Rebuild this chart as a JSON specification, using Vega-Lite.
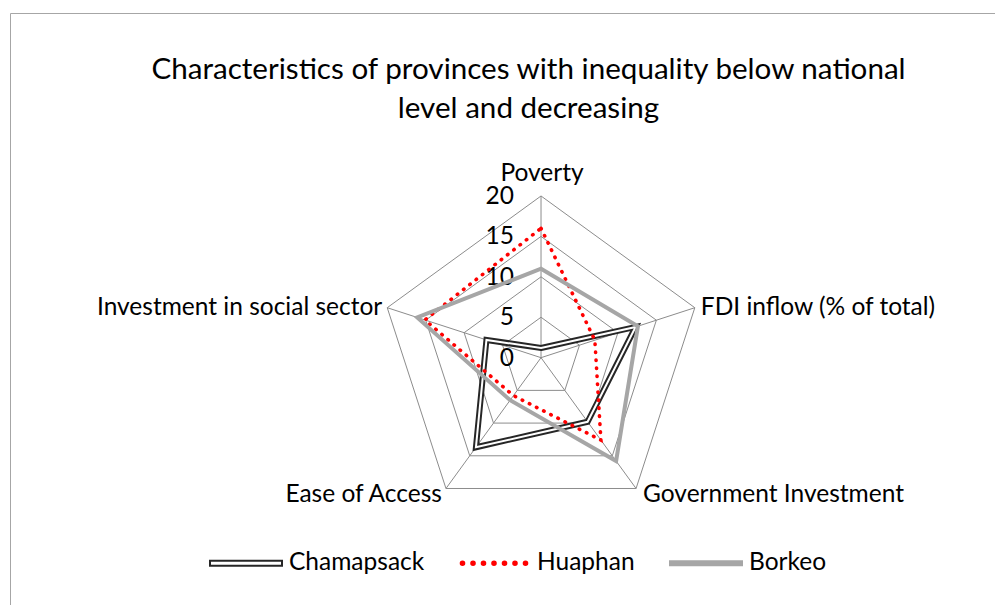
{
  "$schema": "https://vega.github.io/schema/vega-lite/v6.json",
  "width": 985,
  "height": 592,
  "autosize": {"type": "none"},
  "padding": {"left": 10, "top": 13, "right": 0, "bottom": 0},
  "background": "white",
  "config": {"view": {"stroke": null}, "font": "Lato"},
  "title": {
    "text": ["Characteristics of provinces with inequality below national", "level and decreasing"],
    "font": "Lato",
    "fontSize": 29.6,
    "fontWeight": "normal",
    "color": "#000000",
    "anchor": "middle",
    "frame": "group",
    "lineHeight": 39,
    "dx": 26,
    "offset": -112
  },
  "datasets": {
    "dimensions": [
      {"dimension": "Poverty", "slot": 0, "rings": [0, 5, 10, 15, 20]},
      {"dimension": "FDI inflow (% of total)", "slot": 1, "rings": [0, 5, 10, 15, 20]},
      {"dimension": "Government Investment", "slot": 2, "rings": [0, 5, 10, 15, 20]},
      {"dimension": "Ease of Access", "slot": 3, "rings": [0, 5, 10, 15, 20]},
      {"dimension": "Investment in social sector", "slot": 4, "rings": [0, 5, 10, 15, 20]}
    ],
    "scores": [
      {"province": "Chamapsack", "dimension": "Poverty", "slot": 0, "score": 1.2},
      {"province": "Chamapsack", "dimension": "FDI inflow (% of total)", "slot": 1, "score": 12.3},
      {"province": "Chamapsack", "dimension": "Government Investment", "slot": 2, "score": 9.8},
      {"province": "Chamapsack", "dimension": "Ease of Access", "slot": 3, "score": 13.7},
      {"province": "Chamapsack", "dimension": "Investment in social sector", "slot": 4, "score": 7.1},
      {"province": "Huaphan", "dimension": "Poverty", "slot": 0, "score": 16},
      {"province": "Huaphan", "dimension": "FDI inflow (% of total)", "slot": 1, "score": 7},
      {"province": "Huaphan", "dimension": "Government Investment", "slot": 2, "score": 12.6},
      {"province": "Huaphan", "dimension": "Ease of Access", "slot": 3, "score": 5.8},
      {"province": "Huaphan", "dimension": "Investment in social sector", "slot": 4, "score": 15.1},
      {"province": "Borkeo", "dimension": "Poverty", "slot": 0, "score": 11},
      {"province": "Borkeo", "dimension": "FDI inflow (% of total)", "slot": 1, "score": 12.6},
      {"province": "Borkeo", "dimension": "Government Investment", "slot": 2, "score": 15.8},
      {"province": "Borkeo", "dimension": "Ease of Access", "slot": 3, "score": 6.5},
      {"province": "Borkeo", "dimension": "Investment in social sector", "slot": 4, "score": 16.1}
    ]
  },
  "encoding": {
    "x": {
      "field": "px",
      "type": "quantitative",
      "scale": {"domain": [-65.68, 56.15], "nice": false, "zero": false},
      "axis": {"orient": "top", "domain": true, "domainColor": "#a6a6a6", "domainWidth": 1, "ticks": false, "labels": false, "grid": false, "title": null}
    },
    "y": {
      "field": "py",
      "type": "quantitative",
      "scale": {"domain": [-30.59, 42.63], "nice": false, "zero": false},
      "axis": {"orient": "left", "domain": true, "domainColor": "#a6a6a6", "domainWidth": 1, "ticks": false, "labels": false, "grid": false, "title": null}
    }
  },
  "layer": [
    {
      "data": {"name": "dimensions"},
      "transform": [
        {"flatten": ["rings"], "as": ["ring"]},
        {"filter": "datum.ring > 0"},
        {"calculate": "2 * PI * datum.slot / 5", "as": "angle"},
        {"calculate": "datum.ring * sin(datum.angle)", "as": "px"},
        {"calculate": "datum.ring * cos(datum.angle)", "as": "py"}
      ],
      "mark": {"type": "line", "interpolate": "linear-closed", "color": "#8c8c8c", "strokeWidth": 1},
      "encoding": {"detail": {"field": "ring"}, "order": {"field": "slot"}}
    },
    {
      "data": {"name": "dimensions"},
      "transform": [
        {"flatten": ["rings"], "as": ["ring"]},
        {"filter": "datum.ring == 20"},
        {"calculate": "2 * PI * datum.slot / 5", "as": "angle"},
        {"calculate": "datum.ring * sin(datum.angle)", "as": "px"},
        {"calculate": "datum.ring * cos(datum.angle)", "as": "py"}
      ],
      "mark": {"type": "rule", "color": "#8c8c8c", "strokeWidth": 1},
      "encoding": {"x2": {"datum": 0}, "y2": {"datum": 0}}
    },
    {
      "data": {"name": "dimensions"},
      "transform": [
        {"filter": "datum.slot == 0"},
        {"flatten": ["rings"], "as": ["ring"]},
        {"calculate": "0", "as": "px"},
        {"calculate": "datum.ring", "as": "py"}
      ],
      "mark": {"type": "text", "align": "right", "baseline": "middle", "dx": -27, "dy": 1, "fontSize": 24.5, "font": "Lato", "color": "#000000"},
      "encoding": {"text": {"field": "ring", "type": "quantitative"}}
    },
    {
      "data": {"name": "dimensions"},
      "transform": [
        {"filter": "datum.slot == 0"},
        {"calculate": "2 * PI * datum.slot / 5", "as": "angle"},
        {"calculate": "20 * sin(datum.angle)", "as": "px"},
        {"calculate": "20 * cos(datum.angle)", "as": "py"}
      ],
      "mark": {"type": "text", "align": "center", "baseline": "alphabetic", "dx": 1, "dy": -15, "fontSize": 24.5, "font": "Lato", "color": "#000000"},
      "encoding": {"text": {"field": "dimension"}}
    },
    {
      "data": {"name": "dimensions"},
      "transform": [
        {"filter": "datum.slot == 1"},
        {"calculate": "2 * PI * datum.slot / 5", "as": "angle"},
        {"calculate": "20 * sin(datum.angle)", "as": "px"},
        {"calculate": "20 * cos(datum.angle)", "as": "py"}
      ],
      "mark": {"type": "text", "align": "left", "baseline": "alphabetic", "dx": 6, "dy": 7, "fontSize": 24.5, "font": "Lato", "color": "#000000"},
      "encoding": {"text": {"field": "dimension"}}
    },
    {
      "data": {"name": "dimensions"},
      "transform": [
        {"filter": "datum.slot == 2"},
        {"calculate": "2 * PI * datum.slot / 5", "as": "angle"},
        {"calculate": "20 * sin(datum.angle)", "as": "px"},
        {"calculate": "20 * cos(datum.angle)", "as": "py"}
      ],
      "mark": {"type": "text", "align": "left", "baseline": "alphabetic", "dx": 7, "dy": 14, "fontSize": 24.5, "font": "Lato", "color": "#000000"},
      "encoding": {"text": {"field": "dimension"}}
    },
    {
      "data": {"name": "dimensions"},
      "transform": [
        {"filter": "datum.slot == 3"},
        {"calculate": "2 * PI * datum.slot / 5", "as": "angle"},
        {"calculate": "20 * sin(datum.angle)", "as": "px"},
        {"calculate": "20 * cos(datum.angle)", "as": "py"}
      ],
      "mark": {"type": "text", "align": "right", "baseline": "alphabetic", "dx": -4, "dy": 14, "fontSize": 24.5, "font": "Lato", "color": "#000000"},
      "encoding": {"text": {"field": "dimension"}}
    },
    {
      "data": {"name": "dimensions"},
      "transform": [
        {"filter": "datum.slot == 4"},
        {"calculate": "2 * PI * datum.slot / 5", "as": "angle"},
        {"calculate": "20 * sin(datum.angle)", "as": "px"},
        {"calculate": "20 * cos(datum.angle)", "as": "py"}
      ],
      "mark": {"type": "text", "align": "right", "baseline": "alphabetic", "dx": -5, "dy": 7, "fontSize": 24.5, "font": "Lato", "color": "#000000"},
      "encoding": {"text": {"field": "dimension"}}
    },
    {
      "data": {"name": "scores"},
      "transform": [
        {"filter": "datum.province == 'Chamapsack'"},
        {"calculate": "2 * PI * datum.slot / 5", "as": "angle"},
        {"calculate": "datum.score * sin(datum.angle)", "as": "px"},
        {"calculate": "datum.score * cos(datum.angle)", "as": "py"}
      ],
      "mark": {"type": "line", "interpolate": "linear-closed", "strokeWidth": 6, "strokeJoin": "miter"},
      "encoding": {
        "order": {"field": "slot"},
        "color": {
          "field": "province",
          "type": "nominal",
          "scale": {"domain": ["Chamapsack", "Huaphan", "Borkeo"], "range": ["#262626", "#ff0000", "#a6a6a6"]},
          "legend": {
            "orient": "none",
            "legendX": 199,
            "legendY": 513,
            "direction": "horizontal",
            "title": null,
            "padding": 0,
            "symbolType": "stroke",
            "symbolSize": 5184,
            "symbolStrokeWidth": 2,
            "labelFont": "Lato",
            "labelFontSize": 24.5,
            "labelColor": "#000000",
            "labelOffset": 6,
            "columnPadding": 31,
            "encode": {
              "symbols": {
                "update": {
                  "shape": {"signal": "datum.value === 'Chamapsack' ? 'M-1,-0.069L1,-0.069L1,0.069L-1,0.069Z' : datum.value === 'Huaphan' ? 'M-0.925,0A0.05,0.05 0 1 0 -0.825,0A0.05,0.05 0 1 0 -0.925,0Z M-0.633,0A0.05,0.05 0 1 0 -0.533,0A0.05,0.05 0 1 0 -0.633,0Z M-0.342,0A0.05,0.05 0 1 0 -0.242,0A0.05,0.05 0 1 0 -0.342,0Z M-0.05,0A0.05,0.05 0 1 0 0.05,0A0.05,0.05 0 1 0 -0.05,0Z M0.242,0A0.05,0.05 0 1 0 0.342,0A0.05,0.05 0 1 0 0.242,0Z M0.533,0A0.05,0.05 0 1 0 0.633,0A0.05,0.05 0 1 0 0.533,0Z M0.825,0A0.05,0.05 0 1 0 0.925,0A0.05,0.05 0 1 0 0.825,0Z' : 'M-1,-0.055L1,-0.055L1,0.055L-1,0.055Z'"},
                  "fill": {"signal": "datum.value === 'Chamapsack' ? '#ffffff' : datum.value === 'Huaphan' ? '#ff0000' : '#a6a6a6'"},
                  "stroke": {"signal": "datum.value === 'Chamapsack' ? '#262626' : 'transparent'"},
                  "opacity": {"value": 1},
                  "fillOpacity": {"value": 1}
                }
              }
            }
          }
        }
      }
    },
    {
      "data": {"name": "scores"},
      "transform": [
        {"filter": "datum.province == 'Chamapsack'"},
        {"calculate": "2 * PI * datum.slot / 5", "as": "angle"},
        {"calculate": "datum.score * sin(datum.angle)", "as": "px"},
        {"calculate": "datum.score * cos(datum.angle)", "as": "py"}
      ],
      "mark": {"type": "line", "interpolate": "linear-closed", "strokeWidth": 2, "color": "#ffffff", "strokeJoin": "miter"},
      "encoding": {"order": {"field": "slot"}}
    },
    {
      "data": {"name": "scores"},
      "transform": [
        {"filter": "datum.province == 'Huaphan'"},
        {"calculate": "2 * PI * datum.slot / 5", "as": "angle"},
        {"calculate": "datum.score * sin(datum.angle)", "as": "px"},
        {"calculate": "datum.score * cos(datum.angle)", "as": "py"}
      ],
      "mark": {"type": "line", "interpolate": "linear-closed", "strokeWidth": 3.6, "strokeCap": "round", "strokeDash": [0.5, 7.5]},
      "encoding": {
        "order": {"field": "slot"},
        "color": {"field": "province", "type": "nominal"}
      }
    },
    {
      "data": {"name": "scores"},
      "transform": [
        {"filter": "datum.province == 'Borkeo'"},
        {"calculate": "2 * PI * datum.slot / 5", "as": "angle"},
        {"calculate": "datum.score * sin(datum.angle)", "as": "px"},
        {"calculate": "datum.score * cos(datum.angle)", "as": "py"}
      ],
      "mark": {"type": "line", "interpolate": "linear-closed", "strokeWidth": 4, "strokeJoin": "miter"},
      "encoding": {
        "order": {"field": "slot"},
        "color": {"field": "province", "type": "nominal"}
      }
    }
  ]
}
